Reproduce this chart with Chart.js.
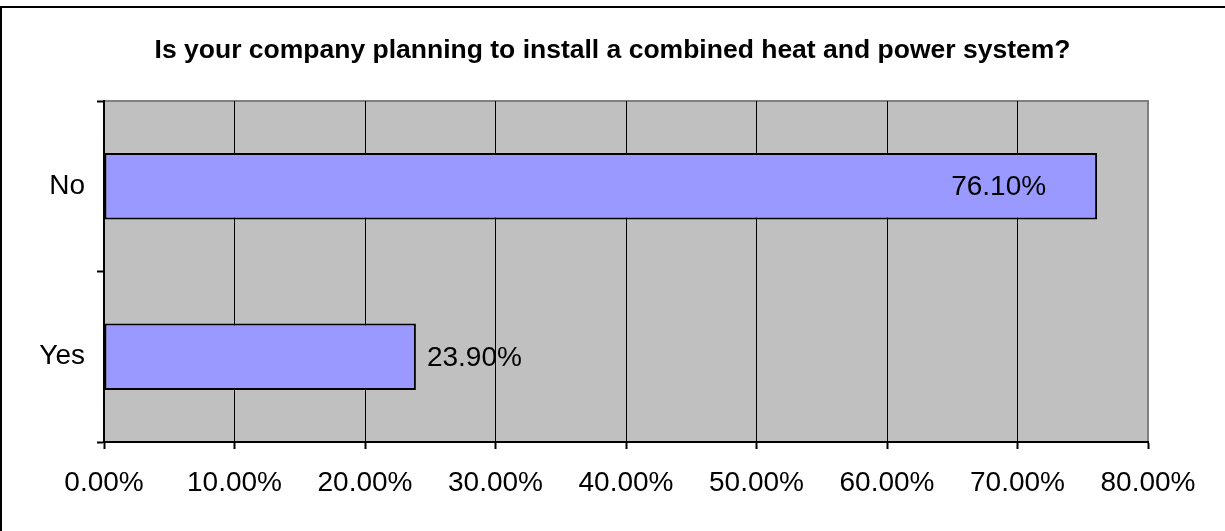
<!DOCTYPE html>
<html>
<head>
<meta charset="utf-8">
<script src="https://cdn.jsdelivr.net/npm/chart.js@4.4.1/dist/chart.umd.min.js"></script>
<style>
  html, body { margin: 0; padding: 0; background: #fff; }
  #wrap { position: relative; width: 1225px; height: 531px; }
</style>
</head>
<body>
<div id="wrap"><canvas id="chart" width="1225" height="531"></canvas></div>
<script>
// Data
const categories = ["No", "Yes"];
const responses = [76.1, 23.9];
const xTicks = [0, 10, 20, 30, 40, 50, 60, 70, 80];
const chartTitle = "Is your company planning to install a combined heat and power system?";

const FONT = "'Liberation Sans', Arial, sans-serif";

// Gray plot area, gray frame, outer chart border and the title (centred on the whole chart)
const plotBackground = {
  id: "plotBackground",
  beforeDraw(chart) {
    const { ctx, chartArea: a } = chart;
    ctx.save();
    ctx.fillStyle = "#c0c0c0";
    ctx.fillRect(a.left, a.top, a.right - a.left, a.bottom - a.top);
    ctx.strokeStyle = "#808080";
    ctx.lineWidth = 2;
    ctx.beginPath();
    ctx.moveTo(a.left, a.top);
    ctx.lineTo(a.right, a.top);
    ctx.lineTo(a.right, a.bottom);
    ctx.stroke();
    // outer border (only top and left are visible in the crop)
    ctx.fillStyle = "#000";
    ctx.fillRect(0, 6, chart.width, 2);
    ctx.fillRect(0, 6, 2, chart.height - 6);
    // title
    ctx.font = "bold 26.5px " + FONT;
    ctx.textAlign = "center";
    ctx.textBaseline = "middle";
    ctx.fillText(chartTitle, chart.width / 2, 51);
    ctx.restore();
  }
};

// Value labels: outside the bar when there is room, otherwise inside near the end
const valueLabels = {
  id: "valueLabels",
  afterDatasetsDraw(chart) {
    const { ctx, chartArea: a } = chart;
    const meta = chart.getDatasetMeta(0);
    ctx.save();
    ctx.font = "28px " + FONT;
    ctx.fillStyle = "#000";
    ctx.textBaseline = "middle";
    meta.data.forEach((bar, i) => {
      const text = responses[i].toFixed(2) + "%";
      const w = ctx.measureText(text).width;
      if (bar.x + 11 + w < a.right) {
        ctx.textAlign = "left";
        ctx.fillText(text, bar.x + 11, bar.y + 2);
      } else {
        ctx.textAlign = "right";
        ctx.fillText(text, bar.x - 51, bar.y + 1);
      }
    });
    ctx.restore();
  }
};

new Chart(document.getElementById("chart"), {
  type: "bar",
  data: {
    labels: categories,
    datasets: [{
      data: responses,
      backgroundColor: "#9999ff",
      borderColor: "#000",
      borderWidth: 2,
      borderSkipped: false,
      barPercentage: 0.39,
      categoryPercentage: 1
    }]
  },
  options: {
    indexAxis: "y",
    responsive: false,
    animation: false,
    layout: { padding: { top: 101, right: 77, bottom: 0, left: 0 } },
    plugins: {
      legend: { display: false },
      tooltip: { enabled: false },
      title: { display: false }
    },
    scales: {
      x: {
        min: 0,
        max: 80,
        afterBuildTicks(scale) {
          scale.ticks = xTicks.map(v => ({ value: v }));
        },
        afterFit(scale) { scale.height = 89; },
        border: { color: "#000", width: 2 },
        grid: {
          color: ctx => (ctx.tick && ctx.tick.value === 80 ? "#808080" : "#000"),
          tickColor: "#000",
          lineWidth: 1,
          tickLength: 7,
          tickWidth: 2
        },
        ticks: {
          color: "#000",
          font: { family: FONT, size: 28 },
          padding: 17,
          maxRotation: 0,
          callback: v => v.toFixed(2) + "%"
        }
      },
      y: {
        afterFit(scale) { scale.width = 104; },
        border: { color: "#000", width: 2 },
        grid: {
          drawOnChartArea: false,
          color: "#000",
          tickLength: 7,
          tickWidth: 2
        },
        ticks: {
          color: "#000",
          font: { family: FONT, size: 28 },
          padding: 12
        }
      }
    }
  },
  plugins: [plotBackground, valueLabels]
});
</script>
</body>
</html>
